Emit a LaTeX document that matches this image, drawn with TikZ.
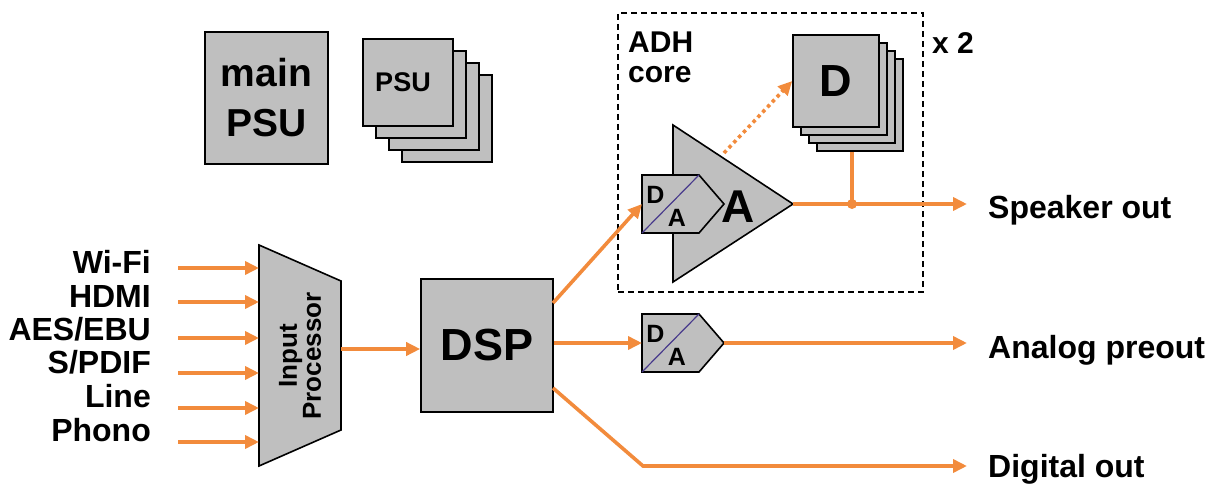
\documentclass[tikz,border=0pt]{standalone}
\usepackage{fontspec}
\setmainfont{Liberation Sans}
\usetikzlibrary{arrows.meta}
\definecolor{boxgray}{RGB}{191,191,191}
\definecolor{sigorange}{RGB}{242,139,60}
\definecolor{dacline}{RGB}{72,58,140}

\begin{document}
\begin{tikzpicture}
[x=1pt,y=-1pt,
  sigArrow/.style={-{Triangle[length=14pt,width=13pt]},line width=3.6pt,draw=sigorange},
  sigLine/.style={line width=3.6pt,draw=sigorange},
  sigDotted/.style={sigArrow,dash pattern=on 3.5pt off 3.5pt},
  blockDecorate/.style={draw,line width=1.6pt,fill=boxgray,inner sep=0pt},
  frameDecorate/.style={draw,line width=1.3pt,dash pattern=on 6pt off 4pt,inner sep=0pt},
  dacDiag/.style={draw=dacline,line width=1.2pt},
  labelDecorate/.style={font=\bfseries\fontsize{32}{33}\selectfont,inner sep=0pt},
  bigDecorate/.style={font=\bfseries\fontsize{45}{48}\selectfont,inner sep=0pt},
  smallDecorate/.style={font=\bfseries\fontsize{26}{24}\selectfont,inner sep=0pt}]
\useasboundingbox (0,0) rectangle (1215,484);
%% power supplies
\node[blockDecorate,minimum width=123pt,minimum height=132pt,align=center,
  font=\bfseries\fontsize{39}{50}\selectfont] (mainpsu) at (266.5,98) {main\\PSU};
\foreach \i in {3,2,1}
{
  \node[blockDecorate,minimum width=90pt,minimum height=87pt] (psu\i) at (408+13*\i,82.5+12*\i) {};
}
\node[blockDecorate,minimum width=90pt,minimum height=87pt] (psu0) at (408,82.5) {};
\node[smallDecorate,font=\bfseries\fontsize{27}{28}\selectfont] (psulabel) at (403,82.5) {PSU};
%% ADH core frame
\node[frameDecorate,minimum width=305pt,minimum height=279pt] (adh) at (770.5,152.5) {};
\node[anchor=north west,align=left,inner sep=0pt,
  font=\bfseries\fontsize{30}{30}\selectfont] (adhlabel) at (628,32) {ADH\\core};
\node[anchor=base west,font=\bfseries\fontsize{30}{32}\selectfont,inner sep=0pt] (times) at (932,54) {x 2};
%% D stages
\foreach \i in {3,2,1}
{
  \node[blockDecorate,minimum width=86pt,minimum height=92pt] (d\i) at (836+8*\i,81+8*\i) {};
}
\node[blockDecorate,bigDecorate,minimum width=86pt,minimum height=92pt] (d0) at (836,81) {D};
%% A stage
\draw[blockDecorate] (673,125) -- (793,204) -- (673,282) -- cycle;
\coordinate (amp) at (793,204);
\coordinate (ampside) at (724,153);
\node[font=\bfseries\fontsize{46}{48}\selectfont,inner sep=0pt,anchor=base] (alabel) at (738.5,222) {A};
%% converters
\foreach \dacname/\y in {daca/204, dacb/343}
{
  \draw[blockDecorate] (642,\y-29) -- (699,\y-29) -- (724,\y) -- (699,\y+29) -- (642,\y+29) -- cycle;
  \draw[dacDiag] (642,\y+29) -- (699,\y-29);
  \node[smallDecorate,font=\bfseries\fontsize{25}{26}\selectfont] (\dacname-d) at (655.5,\y-9) {D};
  \node[smallDecorate,font=\bfseries\fontsize{25}{26}\selectfont] (\dacname-a) at (677,\y+14) {A};
  \coordinate (\dacname-in) at (642,\y);
  \coordinate (\dacname-out) at (724,\y);
}
%% input processor and DSP
\draw[blockDecorate] (259,245) -- (341,281) -- (341,430) -- (259,466) -- cycle;
\coordinate (procleft) at (259,245);
\coordinate (procout) at (341,349);
\node[smallDecorate,rotate=90,align=center] (proclabel) at (300,356) {Input\\Processor};
\node[blockDecorate,bigDecorate,minimum width=132pt,minimum height=133pt] (dsp) at (487,345.5) {DSP};
%% inputs
\foreach \name/\ybase/\yarr/\label in {
  wifi/273/268/{Wi-Fi}, hdmi/307/302/{HDMI}, aes/340/338/{AES/EBU},
  spdif/373/373/{S/PDIF}, line/407/408/{Line}, phono/441/442/{Phono}}
{
  \node[labelDecorate,anchor=base east] (\name) at (151,\ybase) {\label};
  \coordinate (\name-src) at (178,\yarr);
  \draw[sigArrow] (\name-src) -- (\name-src -| procleft);
}
%% outputs
\coordinate (dspup) at (553,303);
\coordinate (dspdown) at (553,388);
\coordinate (digbend) at (643,466);
\coordinate (junc) at (852,204);
\coordinate (spk) at (967,204);
\coordinate (ana) at (967,343);
\coordinate (dig) at (967,466);
\node[labelDecorate,anchor=base west] (spkout) at (988,218) {Speaker out};
\node[labelDecorate,anchor=base west] (anaout) at (988,358) {Analog preout};
\node[labelDecorate,anchor=base west] (digout) at (988,477) {Digital out};
%% signal lines
\draw[sigArrow] (procout) -- (procout -| dsp.west);
\draw[sigArrow] (dspup) -- (daca-in);
\draw[sigArrow] (dsp.east |- dacb-in) -- (dacb-in);
\draw[sigArrow] (dacb-out) -- (ana);
\draw[sigArrow] (dspdown) -- (digbend) -- (dig);
\draw[sigArrow] (amp) -- (spk);
\draw[sigLine] (d3.south -| junc) -- (junc);
\fill[sigorange] (junc) circle (5pt);
\draw[sigDotted] (ampside) -- (d0.west);
\end{tikzpicture}
\end{document}
